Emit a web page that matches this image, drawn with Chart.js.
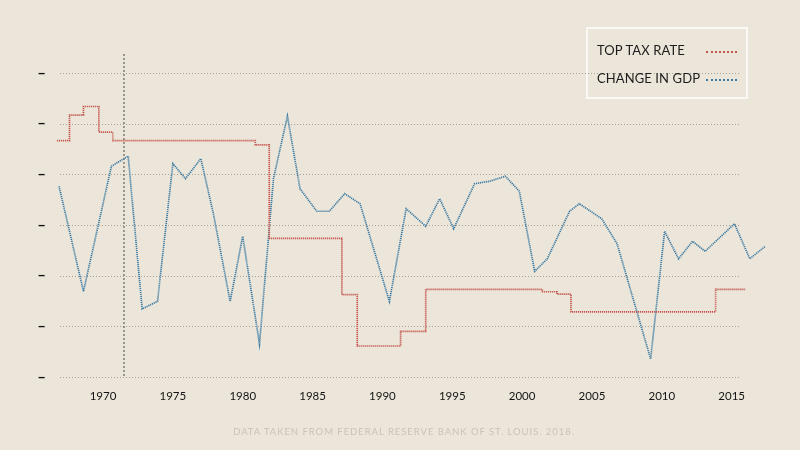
<!DOCTYPE html>
<html>
<head>
<meta charset="utf-8">
<script src="https://cdn.jsdelivr.net/npm/chart.js@4/dist/chart.umd.min.js"></script>
<style>
  html, body { margin: 0; padding: 0; }
  body { width: 800px; height: 450px; background: #ece6da; position: relative; overflow: hidden; font-family: Lato, "Noto Sans", sans-serif; }
  #wrap { position: absolute; left: 0; top: 0; width: 800px; height: 450px; }
  #legend { position: absolute; left: 586px; top: 27px; width: 158px; height: 68px; border: 2px solid #fbf9f5; }
  .row { position: absolute; left: 9px; font-size: 13px; color: #1c1c1c; letter-spacing: 0.1px; }
  .sample { position: absolute; left: 118px; width: 31px; height: 0; border-top: 2px dotted; }
  #footer { position: absolute; left: 0; width: 808px; top: 426px; text-align: center; font-size: 9.5px; letter-spacing: 0.95px; color: #c9c2b6; }
</style>
</head>
<body>
<div id="wrap"><canvas id="chart" width="800" height="450"></canvas></div>
<div id="legend">
  <div class="row" style="top:13px">TOP TAX RATE</div>
  <div class="sample" style="top:22px;border-color:#c4544c"></div>
  <div class="row" style="top:41px">CHANGE IN GDP</div>
  <div class="sample" style="top:50px;border-color:#3d7ba3"></div>
</div>
<div id="footer">DATA TAKEN FROM FEDERAL RESERVE BANK OF ST. LOUIS. 2018.</div>
<script>
// values
const taxYears = [1966.7, 1967.6, 1968.6, 1969.7, 1970.7, 1980.9, 1981.9, 1987.1, 1988.2, 1991.3, 1993.1, 2001.45, 2002.5, 2003.5, 2013.85, 2016.0];
const taxRates = [70, 75.25, 77, 71.75, 70, 69.13, 50, 38.5, 28, 31, 39.6, 39.1, 38.6, 35, 39.6, 39.6];

const gdpYears = [1966.85, 1968.6, 1970.6, 1971.8, 1972.8, 1973.9, 1975.0, 1975.9, 1977.0, 1977.9, 1979.1, 1980.0, 1981.2, 1982.2, 1983.2,
  1984.1, 1985.3, 1986.2, 1987.3, 1988.4, 1990.5, 1991.7, 1993.1, 1994.1, 1995.1, 1996.6, 1997.7, 1998.8, 1999.8, 2000.9,
  2001.8, 2003.4, 2004.1, 2005.7, 2006.8, 2009.2, 2010.2, 2011.2, 2012.2, 2013.1, 2015.2, 2016.3, 2017.4];
const gdpValues = [4.4, 0.2, 5.2, 5.6, -0.5, -0.2, 5.3, 4.7, 5.5, 3.3, -0.2, 2.4, -1.9, 4.7, 7.2,
  4.3, 3.4, 3.4, 4.1, 3.7, -0.2, 3.5, 2.8, 3.9, 2.7, 4.5, 4.6, 4.8, 4.2, 1.0,
  1.5, 3.4, 3.7, 3.1, 2.1, -2.5, 2.6, 1.5, 2.2, 1.8, 2.9, 1.5, 2.0];

const tickYears = [1970, 1975, 1980, 1985, 1990, 1995, 2000, 2005, 2010, 2015];
const gridLevels = [21.7, 32.0, 42.4, 52.8, 63.1, 73.5, 83.9]; // tax-rate axis, unlabeled
const gridEndYear = 2015.6;
const markerYear = 1971.5;

function pairs(xs, ys) {
  return xs.map((x, i) => ({ x: x, y: ys[i] }));
}

// dotted horizontal guides that stop short of the right edge, plus the 1971 marker
const guides = {
  id: 'guides',
  beforeDatasetsDraw(chart) {
    const ctx = chart.ctx;
    const area = chart.chartArea;
    const xs = chart.scales.x;
    const ys = chart.scales.y;
    ctx.save();
    ctx.strokeStyle = 'rgba(110,100,90,0.55)';
    ctx.lineWidth = 1;
    ctx.setLineDash([1, 2]);
    gridLevels.forEach((v) => {
      const y = Math.round(ys.getPixelForValue(v)) + 0.5;
      ctx.beginPath();
      ctx.moveTo(area.left, y);
      ctx.lineTo(xs.getPixelForValue(gridEndYear), y);
      ctx.stroke();
    });
    const x = xs.getPixelForValue(markerYear);
    ctx.strokeStyle = '#6f6a63';
    ctx.lineWidth = 1.3;
    ctx.setLineDash([2, 2]);
    ctx.beginPath();
    ctx.moveTo(x, area.top);
    ctx.lineTo(x, area.bottom);
    ctx.stroke();
    ctx.restore();
  }
};

new Chart(document.getElementById('chart'), {
  type: 'line',
  data: {
    datasets: [
      {
        label: 'TOP TAX RATE',
        data: pairs(taxYears, taxRates),
        yAxisID: 'y',
        stepped: 'before',
        borderColor: '#c4544c',
        borderWidth: 1.7,
        borderDash: [1.2, 0.8],
        pointRadius: 0,
        clip: false
      },
      {
        label: 'CHANGE IN GDP',
        data: pairs(gdpYears, gdpValues),
        yAxisID: 'y2',
        borderColor: '#3d7ba3',
        borderWidth: 1.7,
        borderDash: [1.2, 0.8],
        pointRadius: 0,
        tension: 0,
        clip: false
      }
    ]
  },
  options: {
    responsive: false,
    animation: false,
    layout: { padding: { top: 54, right: 33, bottom: 0, left: 0 } },
    plugins: { legend: { display: false }, tooltip: { enabled: false } },
    scales: {
      x: {
        type: 'linear',
        min: 1966.92,
        max: 2017.53,
        afterBuildTicks: (s) => { s.ticks = tickYears.map(v => ({ value: v })); },
        afterFit: (s) => { s.height = 73; },
        grid: { display: false, drawTicks: false },
        border: { display: false },
        ticks: {
          padding: 12,
          color: '#141414',
          font: { family: '"Liberation Sans Narrow", Lato, sans-serif', size: 11.5 },
          callback: (v) => String(v)
        }
      },
      y: {
        min: 21.66,
        max: 87.74,
        afterBuildTicks: (s) => { s.ticks = gridLevels.map(v => ({ value: v })); },
        afterFit: (s) => { s.width = 60; },
        grid: { display: false, drawTicks: false },
        border: { display: false },
        ticks: {
          padding: 14,
          color: '#111',
          font: { family: 'Lato, sans-serif', size: 15, weight: 'bold' },
          callback: () => '\u2013'
        }
      },
      y2: {
        display: false,
        min: -3.22,
        max: 9.68
      }
    }
  },
  plugins: [guides]
});
</script>
</body>
</html>
